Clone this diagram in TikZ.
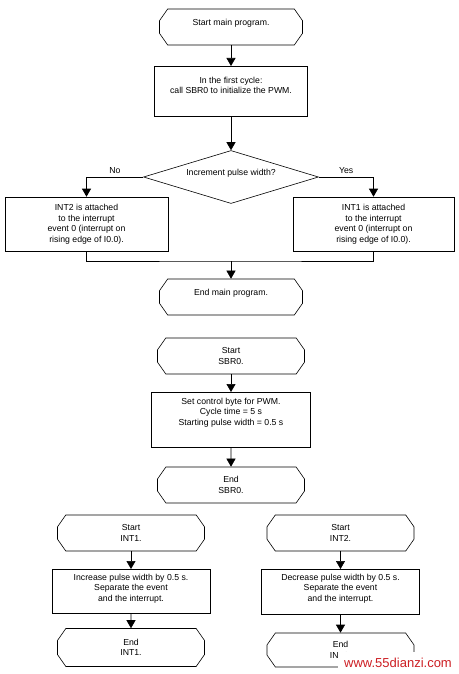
\documentclass[tikz,border=0pt]{standalone}
\usepackage{fontspec}
\setmainfont{Liberation Sans}
\usetikzlibrary{shapes.geometric,shapes.misc,arrows.meta}
\definecolor{wmred}{RGB}{205,30,35}
\begin{document}
\begin{tikzpicture}[x=1pt,y=-1pt,line width=0.6pt,
font=\fontsize{8.7}{10.5}\selectfont,
term/.style={draw,chamfered rectangle,chamfered rectangle xsep=13pt,chamfered rectangle angle=35,
  minimum width=147pt,minimum height=36pt,inner sep=0pt,align=center},
proc/.style={draw,rectangle,align=center,inner xsep=0pt},
dec/.style={draw,diamond,aspect=3.3,minimum width=175pt,minimum height=53pt,inner sep=0pt},
arr/.style={-{Triangle[width=9pt,length=8pt]}}]
\useasboundingbox (0,0) rectangle (458,674);
% main program
\node[term,minimum width=143pt,text depth=10pt] (start) at (231,27) {Start main program.};
\node[proc,anchor=north,minimum width=153pt,inner ysep=10.8pt,text depth=11.8pt] (init) at (231,66)
  {In the first cycle:\\call SBR0 to initialize the PWM.};
\node[dec,text depth=10pt] (incr) at (231,177) {Increment pulse width?};
\node[proc,minimum width=163pt,minimum height=54pt] (att2) at (86.5,224)
  {INT2 is attached\\to the interrupt\\event 0 (interrupt on\\rising edge of I0.0).};
\node[proc,minimum width=161pt,minimum height=54pt] (att1) at (373.5,224)
  {INT1 is attached\\to the interrupt\\event 0 (interrupt on\\rising edge of I0.0).};
\coordinate (join) at (231,261);
\node[term,minimum width=143pt,text depth=10pt] (endmain) at (231,297) {End main program.};
\draw[arr] (start) -- (init);
\draw[arr] (init) -- (incr);
\draw[arr] (incr.west) -| (att2.north) node[pos=0.25,above]{No};
\draw[arr] (incr.east) -| (att1.north) node[pos=0.25,above]{Yes};
\draw (att2.south) |- (join) -| (att1.south);
\draw[arr] (join) -- (endmain);
% SBR0
\node[term] (startsbr) at (231,356) {Start\\SBR0.};
\node[proc,anchor=north,minimum width=159pt,inner ysep=5.6pt,text depth=16pt] (sbr) at (231,392)
  {Set control byte for PWM.\\Cycle time = 5 s\\Starting pulse width = 0.5 s};
\node[term] (endsbr) at (231,485) {End\\SBR0.};
\draw[arr] (startsbr) -- (sbr);
\draw[arr] (sbr) -- (endsbr);
% INT1
\node[term] (startint1) at (131,533) {Start\\INT1.};
\node[proc,anchor=north,minimum width=158pt,inner ysep=4.8pt,text depth=6.8pt] (int1) at (131,569)
  {Increase pulse width by 0.5 s.\\Separate the event\\and the interrupt.};
\node[term,minimum height=38pt] (endint1) at (131,647.5) {End\\INT1.};
\draw[arr] (startint1) -- (int1);
\draw[arr] (int1) -- (endint1);
% INT2
\node[term] (startint2) at (340.5,533) {Start\\INT2.};
\node[proc,anchor=north,minimum width=158pt,inner ysep=4.8pt,text depth=7.8pt] (int2) at (340.5,569)
  {Decrease pulse width by 0.5 s.\\Separate the event\\and the interrupt.};
\node[term,minimum height=34pt] (endint2) at (340.5,650) {End\\INT2.};
\draw[arr] (startint2) -- (int2);
\draw[arr] (int2) -- (endint2);
% watermark
\node[fill=white,text=wmred,font=\fontsize{13}{15}\selectfont,minimum width=120pt,minimum height=22pt] (wm) at (398,663) {www.55dianzi.com};
\end{tikzpicture}
\end{document}
